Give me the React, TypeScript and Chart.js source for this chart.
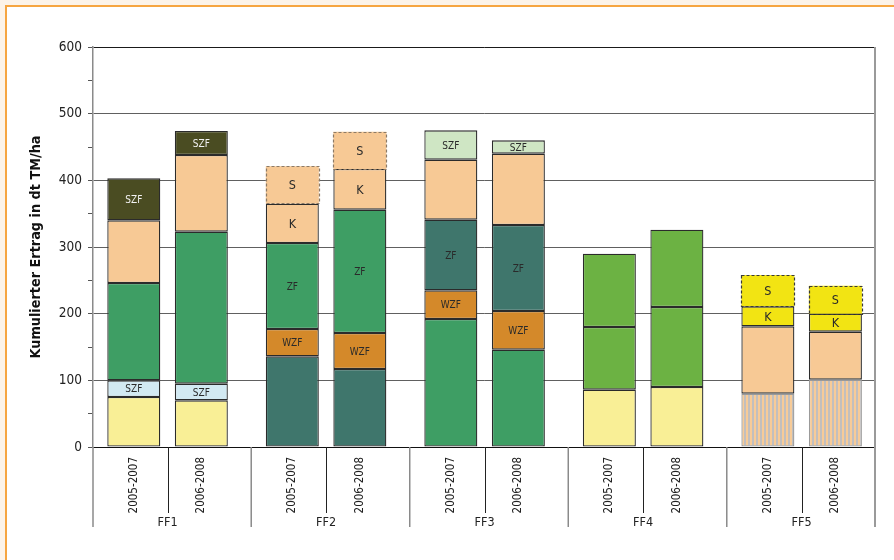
import React, { useEffect, useRef } from 'react';
import { Chart, registerables } from 'chart.js';

Chart.register(...registerables);

// ---------- data ----------
const groups = ['FF1', 'FF2', 'FF3', 'FF4', 'FF5'];
const periods = ['2005-2007', '2006-2008'];
const yMin = 0;
const yMax = 600;
const yStep = 50;
const yLabelStep = 100;
const yTitle = 'Kumulierter Ertrag in dt TM/ha';

// stacked segments (bottom -> top), one value per group
const p1Layer1 = [75, 136, 192, 86, 80];
const p1Layer2 = [25, 41, 43, 94, 101];
const p1Layer3 = [146, 129, 106, 110, 30];
const p1Layer4 = [94, 59, 90, null, 47];
const p1Layer5 = [63, 56, 44, null, null];

const p2Layer1 = [70, 117, 146, 90, 101];
const p2Layer2 = [25, 54, 58, 120, 72];
const p2Layer3 = [228, 185, 129, 116, 27];
const p2Layer4 = [115, 61, 107, null, 42];
const p2Layer5 = [36, 56, 20, null, null];

// segment captions per layer
const layer1Text = ['', '', '', '', ''];
const layer2Text = ['SZF', 'WZF', 'WZF', '', ''];
const layer3Text = ['', 'ZF', 'ZF', '', 'K'];
const layer4Text = ['', 'K', '', '', 'S'];
const layer5Text = ['SZF', 'S', 'SZF', '', ''];

// ---------- styles ----------
const FONT = "'DejaVu Sans Condensed', 'DejaVu Sans', sans-serif";
const C = {
  yellow: '#f9ef96',
  lightBlue: '#d2e9f2',
  green: '#3e9e64',
  peach: '#f7c995',
  olive: '#4a4c22',
  teal: '#3f766c',
  orange: '#d4892a',
  lightGreen: '#cfe6c4',
  green4: '#6cb243',
  yellow5: '#f2e413',
};
const layerColors = [
  [C.yellow, C.teal, C.green, C.yellow, 'HATCH'],
  [C.lightBlue, C.orange, C.orange, C.green4, C.peach],
  [C.green, C.green, C.teal, C.green4, C.yellow5],
  [C.peach, C.peach, C.peach, C.green4, C.yellow5],
  [C.olive, C.peach, C.lightGreen, C.green4, C.yellow5],
];
// dashed (estimated) segments: [layer index, group index, dash colour]
const dashedSegments: [number, number, string][] = [
  [4, 1, '#8c7a66'],
  [3, 4, '#3a3a3a'],
];
const whiteTextSegments: [number, number][] = [[4, 0]];

export default function App() {
  const ref = useRef<HTMLCanvasElement>(null);

  useEffect(() => {
    const canvas = ref.current!;
    const pc = document.createElement('canvas');
    pc.width = 4;
    pc.height = 4;
    const pctx = pc.getContext('2d')!;
    pctx.fillStyle = '#f7cb98';
    pctx.fillRect(0, 0, 4, 4);
    pctx.fillStyle = '#c2bfbe';
    pctx.fillRect(0, 0, 2, 4);
    const hatch = canvas.getContext('2d')!.createPattern(pc, 'repeat');

    const layersByPeriod = [
      [p1Layer1, p1Layer2, p1Layer3, p1Layer4, p1Layer5],
      [p2Layer1, p2Layer2, p2Layer3, p2Layer4, p2Layer5],
    ];
    const layerTexts = [layer1Text, layer2Text, layer3Text, layer4Text, layer5Text];
    const isDashed = (li: number, gi: number) =>
      dashedSegments.find((d) => d[0] === li && d[1] === gi);

    const datasets: any[] = [];
    layersByPeriod.forEach((layers, pi) =>
      layers.forEach((vals, li) =>
        datasets.push({
          label: periods[pi] + ' #' + (li + 1),
          data: vals,
          stack: periods[pi],
          backgroundColor: layerColors[li].map((c) => (c === 'HATCH' ? hatch : c)),
          borderColor: (ctx: any) => (layerColors[li][ctx.dataIndex] === 'HATCH' ? '#9a9a9a' : '#2b2b2b'),
          borderWidth: (ctx: any) => (isDashed(li, ctx.dataIndex) ? 0 : 1.3),
          borderSkipped: false,
          categoryPercentage: 0.852,
          barPercentage: 0.785,
        })
      )
    );

    const framePlugin = {
      id: 'frame',
      beforeDraw(chart: any) {
        const { ctx, width, height } = chart;
        ctx.save();
        ctx.fillStyle = '#fcf3e8';
        ctx.fillRect(0, 0, width, height);
        ctx.fillStyle = '#ffffff';
        ctx.fillRect(6, 6, width, height);
        ctx.strokeStyle = '#f6a540';
        ctx.lineWidth = 2;
        ctx.beginPath();
        ctx.moveTo(6, height + 5);
        ctx.lineTo(6, 6);
        ctx.lineTo(width + 5, 6);
        ctx.stroke();
        ctx.restore();
      },
    };

    const xGeomPlugin = {
      id: 'xgeom',
      afterLayout(chart: any) {
        const x = chart.scales.x;
        const ca = chart.chartArea;
        x._startPixel = ca.left - 4.7;
        x._length = ca.right - ca.left + 10.6;
      },
    };

    const segPlugin = {
      id: 'segments',
      afterDatasetsDraw(chart: any) {
        const { ctx } = chart;
        ctx.save();
        chart.data.datasets.forEach((ds: any, di: number) => {
          const li = di % 5;
          const meta = chart.getDatasetMeta(di);
          meta.data.forEach((el: any, gi: number) => {
            const v = ds.data[gi];
            if (v === null || v === undefined) return;
            const left = el.x - el.width / 2;
            const top = Math.min(el.y, el.base);
            const h = Math.abs(el.base - el.y);
            const d = isDashed(li, gi);
            if (d) {
              ctx.strokeStyle = d[2];
              ctx.lineWidth = 1.2;
              ctx.setLineDash([3, 2]);
              ctx.strokeRect(Math.round(left) + 0.5, Math.round(top) + 0.5, Math.round(el.width), Math.round(h));
              ctx.setLineDash([]);
            }
            const txt = layerTexts[li][gi];
            if (txt) {
              const big = txt.length === 1;
              ctx.font = (big ? '12.5px ' : '10px ') + FONT;
              ctx.fillStyle = whiteTextSegments.some((w) => w[0] === li && w[1] === gi) ? '#f2f2f2' : '#2a2a2a';
              ctx.textAlign = 'center';
              ctx.textBaseline = 'middle';
              ctx.fillText(txt, el.x, top + h / 2 + 1);
            }
          });
        });
        ctx.restore();
      },
    };

    const axisPlugin = {
      id: 'xaxisdeco',
      afterDraw(chart: any) {
        const { ctx, chartArea } = chart;
        const x = chart.scales.x;
        const bottom = chartArea.bottom;
        ctx.save();
        // right frame line
        ctx.strokeStyle = '#9a9a9a';
        ctx.lineWidth = 2;
        ctx.beginPath();
        ctx.moveTo(chartArea.right, chartArea.top);
        ctx.lineTo(chartArea.right, bottom + 80);
        ctx.stroke();
        // group boundaries
        ctx.strokeStyle = '#8a8a8a';
        ctx.lineWidth = 1.5;
        const bounds: number[] = [chartArea.left];
        for (let g = 0; g < groups.length - 1; g++) {
          bounds.push((x.getPixelForValue(g) + x.getPixelForValue(g + 1)) / 2 + 4.4);
        }
        bounds.forEach((bx) => {
          ctx.beginPath();
          ctx.moveTo(bx, bottom);
          ctx.lineTo(bx, bottom + 80);
          ctx.stroke();
        });
        // inner separators
        ctx.strokeStyle = '#222';
        ctx.lineWidth = 1;
        groups.forEach((_, g) => {
          const gx = Math.round(x.getPixelForValue(g)) + 0.5;
          ctx.beginPath();
          ctx.moveTo(gx, bottom);
          ctx.lineTo(gx, bottom + 66);
          ctx.stroke();
        });
        // period labels (rotated) at bar centres
        ctx.fillStyle = '#222';
        ctx.font = '11.5px ' + FONT;
        periods.forEach((p, pi) => {
          const meta = chart.getDatasetMeta(pi * 5);
          meta.data.forEach((el: any) => {
            ctx.save();
            ctx.translate(el.x, bottom + 10);
            ctx.rotate(-Math.PI / 2);
            ctx.textAlign = 'right';
            ctx.textBaseline = 'middle';
            ctx.fillText(p, 0, 0);
            ctx.restore();
          });
        });
        // group labels
        ctx.font = '12.5px ' + FONT;
        ctx.textAlign = 'center';
        ctx.textBaseline = 'middle';
        groups.forEach((g, gi) => {
          ctx.fillText(g, x.getPixelForValue(gi), bottom + 76);
        });
        ctx.restore();
      },
    };

    const chart = new Chart(canvas, {
      type: 'bar',
      data: { labels: groups, datasets },
      options: {
        responsive: false,
        animation: false,
        layout: { padding: { left: 0, right: 19, top: 47, bottom: 0 } },
        plugins: { legend: { display: false }, tooltip: { enabled: false } },
        scales: {
          x: {
            type: 'category',
            offset: true,
            stacked: true,
            grid: { display: false },
            ticks: { display: false },
            border: { display: true, color: '#111', width: 1 },
            afterFit: (s: any) => {
              s.height = 113;
            },
          },
          y: {
            stacked: true,
            min: yMin,
            max: yMax,
            ticks: {
              stepSize: yStep,
              padding: 6,
              color: '#222',
              font: { family: FONT, size: 13.5 },
              callback: (v: any) => (v % yLabelStep === 0 ? String(v) : ''),
            },
            grid: {
              color: (ctx: any) =>
                ctx.tick && ctx.tick.value % yLabelStep !== 0
                  ? 'rgba(0,0,0,0)'
                  : ctx.tick && ctx.tick.value === yMax
                  ? '#1a1a1a'
                  : '#606060',
              tickColor: '#555',
              tickLength: 5,
              lineWidth: 1,
            },
            border: { display: true, color: '#8a8a8a', width: 1.5 },
            title: {
              display: true,
              text: yTitle,
              color: '#111',
              font: { family: FONT, size: 14.3, weight: 'bold' },
              padding: { top: 27.5, bottom: 0 },
            },
            afterFit: (s: any) => {
              s.width = 93;
            },
          },
        },
      },
      plugins: [framePlugin, xGeomPlugin, segPlugin, axisPlugin],
    } as any);

    return () => chart.destroy();
  }, []);

  return (
    <div style={{ position: 'fixed', left: 0, top: 0, width: 894, height: 560 }}>
      <canvas ref={ref} width={894} height={560} style={{ display: 'block', width: 894, height: 560 }} />
    </div>
  );
}
